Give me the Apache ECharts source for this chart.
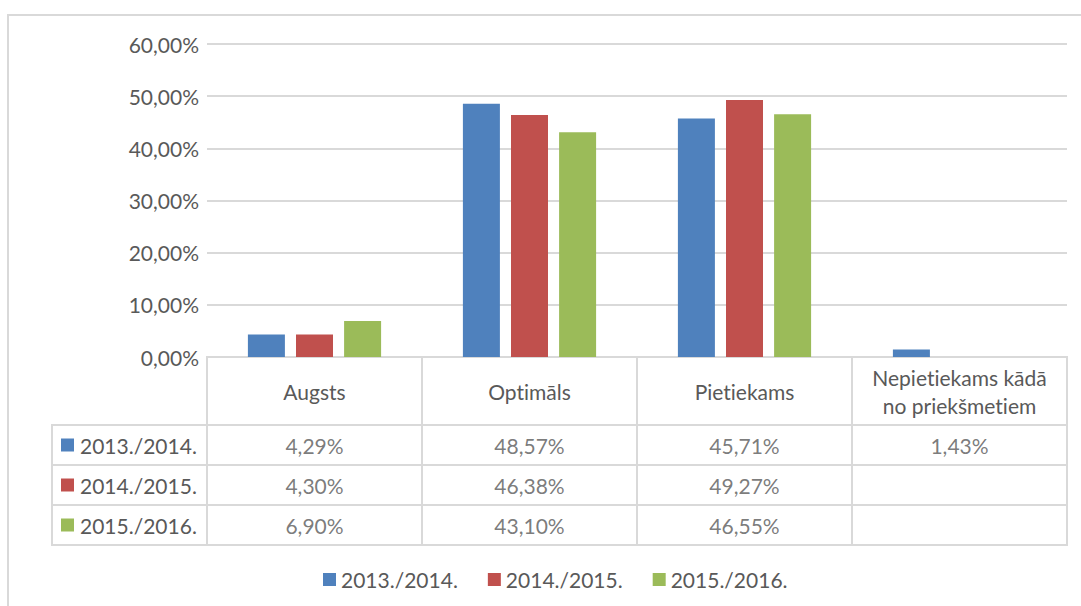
<!DOCTYPE html>
<html>
<head>
<meta charset="utf-8">
<script src="https://cdn.jsdelivr.net/npm/echarts@6/dist/echarts.min.js"></script>
<style>
    html, body { margin: 0; padding: 0; background: #fff; }
    #chart { width: 1081px; height: 606px; }
    #chart text { font-variant-ligatures: none; font-feature-settings: "liga" 0; }
    .frame {
        position: absolute; left: 7px; top: 14px; width: 1200px; height: 700px;
        border-top: 2px solid #d9d9d9; border-left: 2px solid #d9d9d9;
        pointer-events: none;
    }
</style>
</head>
<body>
<div id="chart"></div>
<div class="frame"></div>
<script>
    // data
    var categories = ['Augsts', 'Optimāls', 'Pietiekams', 'Nepietiekams kādā\nno priekšmetiem'];
    var years = ['2013./2014.', '2014./2015.', '2015./2016.'];
    var y2014 = [4.29, 48.57, 45.71, 1.43];
    var y2015 = [4.30, 46.38, 49.27, null];
    var y2016 = [6.90, 43.10, 46.55, null];
    var colors = ['#4F81BD', '#C0504D', '#9BBB59'];

    var allSeries = [y2014, y2015, y2016];
    var font = 'Lato';
    var fs = 21;
    var txt = '#595959';
    var line = '#d9d9d9';

    function pct(v) {
        return v.toFixed(2).replace('.', ',') + '%';
    }

    var cells = [];
    allSeries.forEach(function (vals, s) {
        vals.forEach(function (v, i) {
            if (v != null) cells.push([categories[i], years[s], v]);
        });
    });

    var chart = echarts.init(document.getElementById('chart'), null, { renderer: 'svg' });

    var bars = allSeries.map(function (vals, s) {
        return {
            name: years[s],
            type: 'bar',
            xAxisIndex: 0,
            yAxisIndex: 0,
            barWidth: 37,
            barGap: '30%',
            itemStyle: { color: colors[s] },
            data: vals
        };
    });

    var hidden = { axisLine: { show: false }, axisTick: { show: false }, axisLabel: { show: false } };
    var split = { show: true, lineStyle: { color: line, width: 2 } };

    chart.setOption({
        animation: false,
        textStyle: { fontFamily: font },
        legend: {
            data: years,
            top: 564,
            left: 318,
            icon: 'rect',
            itemWidth: 13,
            itemHeight: 13,
            itemGap: 30,
            textStyle: { color: txt, fontSize: fs, fontFamily: font }
        },
        grid: [
            // plot
            { left: 207, right: 14, top: 44, bottom: 249 },
            // table body (values)
            { left: 207, right: 14, top: 425, bottom: 61, show: true, borderColor: line, borderWidth: 2 },
            // row labels column
            { left: 52, width: 155, top: 425, bottom: 61, show: true, borderColor: line, borderWidth: 2 },
            // header row
            { left: 207, right: 14, top: 357, height: 68, show: true, borderColor: line, borderWidth: 2 }
        ],
        xAxis: [
            {
                type: 'category', gridIndex: 0, data: categories,
                axisLine: { lineStyle: { color: line, width: 2 } },
                axisTick: { show: false },
                axisLabel: { interval: 0, color: txt, fontSize: fs, margin: 34, verticalAlign: 'middle', lineHeight: 28, fontFamily: font }
            },
            Object.assign({ type: 'category', gridIndex: 1, data: categories, splitLine: split }, hidden),
            { type: 'value', gridIndex: 2, min: 0, max: 1, show: false },
            Object.assign({ type: 'category', gridIndex: 3, data: categories, splitLine: split }, hidden)
        ],
        yAxis: [
            {
                type: 'value', gridIndex: 0, min: 0, max: 60, interval: 10,
                axisLine: { show: false }, axisTick: { show: false },
                axisLabel: { color: txt, fontSize: fs, margin: 8, formatter: pct, fontFamily: font },
                splitLine: { lineStyle: { color: line, width: 2 } }
            },
            Object.assign({ type: 'category', gridIndex: 1, data: years, inverse: true, splitLine: split }, hidden),
            {
                type: 'category', gridIndex: 2, data: years, inverse: true,
                axisLine: { show: false }, axisTick: { show: false },
                splitLine: split,
                axisLabel: {
                    inside: true, margin: 9, color: txt, fontSize: fs, fontFamily: font,
                    formatter: function (v, i) { return '{s' + i + '|}{t|' + v + '}'; },
                    rich: {
                        s0: { width: 13, height: 13, backgroundColor: colors[0] },
                        s1: { width: 13, height: 13, backgroundColor: colors[1] },
                        s2: { width: 13, height: 13, backgroundColor: colors[2] },
                        t: { color: txt, fontSize: fs, fontFamily: font, padding: [0, 0, 0, 6] }
                    }
                }
            },
            { type: 'value', gridIndex: 3, min: 0, max: 1, show: false }
        ],
        series: bars.concat([{
            type: 'scatter',
            xAxisIndex: 1,
            yAxisIndex: 1,
            silent: true,
            symbolSize: 1,
            itemStyle: { color: 'rgba(0,0,0,0)' },
            label: {
                show: true, position: 'inside', color: txt, fontSize: fs, fontFamily: font,
                formatter: function (p) { return pct(p.value[2]); }
            },
            data: cells
        }])
    });
</script>
</body>
</html>
